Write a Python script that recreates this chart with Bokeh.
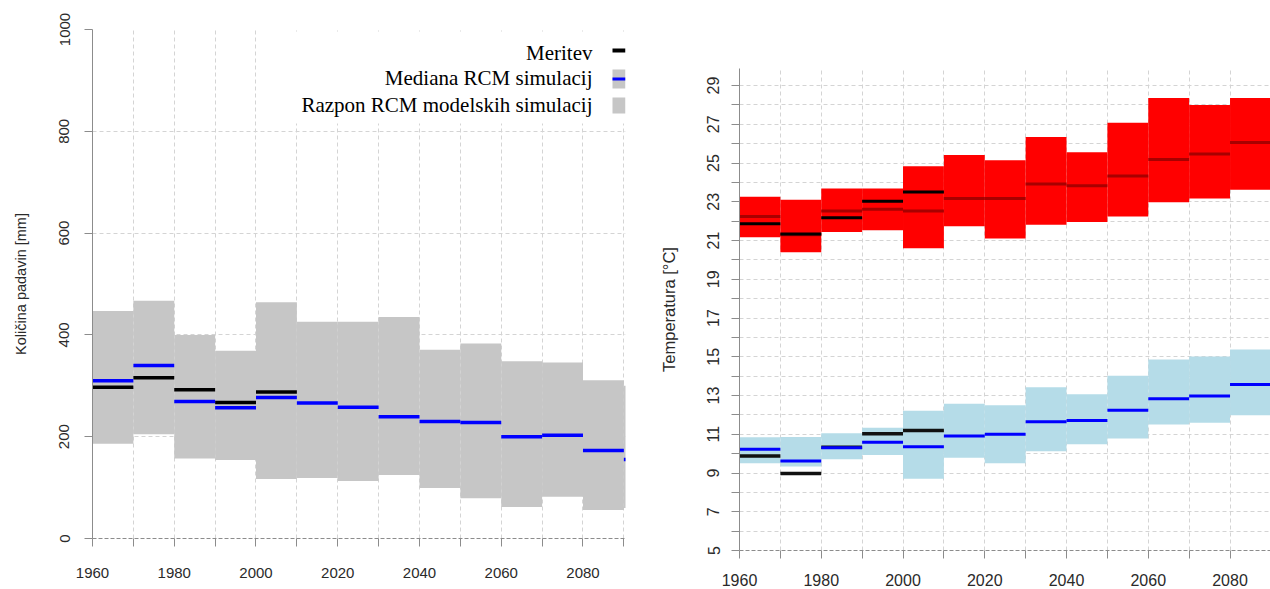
from bokeh.plotting import figure
from bokeh.layouts import row
from bokeh.models import FixedTicker, Range1d, Label, BoxAnnotation
from bokeh.embed import file_html
from bokeh.resources import INLINE

# ---------------- data: precipitation (left) ----------------
decades = [1960, 1970, 1980, 1990, 2000, 2010, 2020, 2030, 2040, 2050, 2060, 2070, 2080, 2090]
precip_lower = [186, 205, 157, 154, 117, 119, 113, 125, 99, 79, 62, 82, 56, 60]
precip_upper = [447, 467, 400, 369, 464, 426, 426, 435, 371, 383, 348, 346, 311, 300]
precip_median = [310, 340, 269, 257, 277, 266, 258, 239, 230, 228, 200, 203, 173, 155]
obs_decades = [1960, 1970, 1980, 1990, 2000]
precip_obs = [297, 316, 292, 267, 288]

# ---------------- data: temperature (right) ----------------
t_decades = [1960, 1970, 1980, 1990, 2000, 2010, 2020, 2030, 2040, 2050, 2060, 2070, 2080]
tmax_lower = [21.17, 20.39, 21.44, 21.53, 20.60, 21.74, 21.10, 21.82, 21.96, 22.24, 22.97, 23.17, 23.62]
tmax_upper = [23.26, 23.10, 23.69, 23.69, 24.83, 25.42, 25.14, 26.35, 25.56, 27.08, 28.36, 28.00, 28.36]
tmax_median = [22.24, 21.30, 22.52, 22.62, 22.52, 23.17, 23.17, 23.92, 23.83, 24.33, 25.18, 25.47, 26.06]
tmax_obs = [21.86, 21.34, 22.17, 23.03, 23.50]
tmin_lower = [9.50, 9.33, 9.71, 9.93, 8.71, 9.79, 9.50, 10.12, 10.48, 10.78, 11.50, 11.59, 11.98]
tmin_upper = [10.84, 10.86, 11.05, 11.34, 12.22, 12.57, 12.50, 13.43, 13.07, 14.02, 14.86, 15.02, 15.38]
tmin_median = [10.22, 9.62, 10.31, 10.59, 10.36, 10.91, 11.00, 11.64, 11.71, 12.24, 12.83, 12.97, 13.57]
tmin_obs = [9.88, 8.97, 10.33, 11.03, 11.19]

precip_ticks = [0, 200, 400, 600, 800, 1000]
temp_ticks = list(range(5, 30))
year_ticks = decades

legend_labels = ["Meritev", "Mediana RCM simulacij", "Razpon RCM modelskih simulacij"]

SANS = "Liberation Sans"
SERIF = "Liberation Serif"
GRID = "#d4d4d4"
AXIS = "#8c8c8c"
TXT = "#2a2a2a"


def style(p, ylabel, y_ticker, x_override, y_override, xl_stand, yl_stand, ytitle_stand, tick_fs, title_fs):
    p.outline_line_color = None
    p.background_fill_color = "white"
    xt = FixedTicker(ticks=year_ticks)
    p.xaxis.ticker = xt
    p.yaxis.ticker = y_ticker
    p.xgrid.ticker = xt
    p.ygrid.ticker = y_ticker
    for g in (p.xgrid, p.ygrid):
        g.grid_line_color = GRID
        g.grid_line_dash = "4 3"
        g.grid_line_width = 1
    p.xaxis.major_label_overrides = x_override
    p.yaxis.major_label_overrides = y_override
    for ax in (p.xaxis, p.yaxis):
        ax.axis_line_color = AXIS
        ax.major_tick_line_color = AXIS
        ax.major_tick_out = 8
        ax.major_tick_in = 0
        ax.minor_tick_line_color = None
        ax.major_label_text_font = SANS
        ax.major_label_text_font_size = tick_fs
        ax.major_label_text_color = TXT
    p.xaxis.axis_line_dash = "4 2"
    p.xaxis.major_label_standoff = xl_stand
    p.yaxis.major_label_standoff = yl_stand
    p.yaxis.major_label_orientation = "vertical"
    p.yaxis.axis_label = ylabel
    p.yaxis.axis_label_text_font = SANS
    p.yaxis.axis_label_text_font_size = title_fs
    p.yaxis.axis_label_text_font_style = "normal"
    p.yaxis.axis_label_text_color = TXT
    p.yaxis.axis_label_standoff = ytitle_stand


def screen_box(left, right, bottom, top, color):
    return BoxAnnotation(left=left, right=right, bottom=bottom, top=top,
                         left_units="screen", right_units="screen",
                         bottom_units="screen", top_units="screen",
                         fill_color=color, fill_alpha=1, line_color=None)


# ---------------- left figure ----------------
p1 = figure(width=640, height=589, output_backend="svg", toolbar_location=None,
            x_range=Range1d(1960, 2090.4), y_range=Range1d(0, 1000),
            min_border_left=92, min_border_right=15, min_border_top=29, min_border_bottom=51)
p1.frame_align = False
x_ov = {t: ("" if (t - 1960) % 20 else str(t)) for t in year_ticks}
style(p1, "Količina padavin [mm]", FixedTicker(ticks=precip_ticks), x_ov, {}, 21, 15, 28, "15px", "14.5px")

dec_end = [d + 10 for d in decades]
obs_end = [d + 10 for d in obs_decades]
p1.quad(left=decades, right=dec_end, bottom=precip_lower, top=precip_upper,
        fill_color="#c6c6c6", line_color=None)
p1.segment(x0=obs_decades, x1=obs_end, y0=precip_obs, y1=precip_obs, line_color="black", line_width=3.5)
p1.segment(x0=decades, x1=dec_end, y0=precip_median, y1=precip_median, line_color="#0000ff", line_width=3.5)

# legend (frame screen units, text to the left of its key)
p1.add_layout(screen_box(200, 533, 415, 507, "white"))
for lab, ly in zip(legend_labels, [486, 461, 434]):
    p1.add_layout(Label(x=500, y=ly, x_units="screen", y_units="screen", text=lab,
                        text_align="right", text_baseline="middle", text_font=SERIF,
                        text_font_size="21px", text_color="black"))
p1.add_layout(screen_box(520, 533, 486, 490, "black"))
p1.add_layout(screen_box(520, 533, 450, 469, "#c6c6c6"))
p1.add_layout(screen_box(520, 533, 458, 461, "#0000ff"))
p1.add_layout(screen_box(520, 533, 425, 441, "#c6c6c6"))

# ---------------- right figure ----------------
p2 = figure(width=630, height=589, output_backend="svg", toolbar_location=None,
            x_range=Range1d(1960, 2089.9), y_range=Range1d(5, 29.88),
            min_border_left=99, min_border_right=0, min_border_top=68, min_border_bottom=39)
p2.frame_align = False
y_ov = {t: (str(t) if t % 2 else "") for t in temp_ticks}
style(p2, "Temperatura [°C]", FixedTicker(ticks=temp_ticks), x_ov, y_ov, 15, 12, 27, "16px", "16.5px")

t_end = [d + 10 for d in t_decades]
p2.quad(left=t_decades, right=t_end, bottom=tmax_lower, top=tmax_upper, fill_color="#ff0000", line_color=None)
p2.segment(x0=t_decades, x1=t_end, y0=tmax_median, y1=tmax_median, line_color="#a80000", line_width=3)
p2.segment(x0=obs_decades, x1=obs_end, y0=tmax_obs, y1=tmax_obs, line_color="black", line_width=3)
p2.quad(left=t_decades, right=t_end, bottom=tmin_lower, top=tmin_upper, fill_color="#b5dce8", line_color=None)
p2.segment(x0=obs_decades, x1=obs_end, y0=tmin_obs, y1=tmin_obs, line_color="#111111", line_width=3.5)
p2.segment(x0=t_decades, x1=t_end, y0=tmin_median, y1=tmin_median, line_color="#0000ff", line_width=3)

layout = row(p1, p2)
open("out.html", "w").write(file_html(layout, INLINE))
